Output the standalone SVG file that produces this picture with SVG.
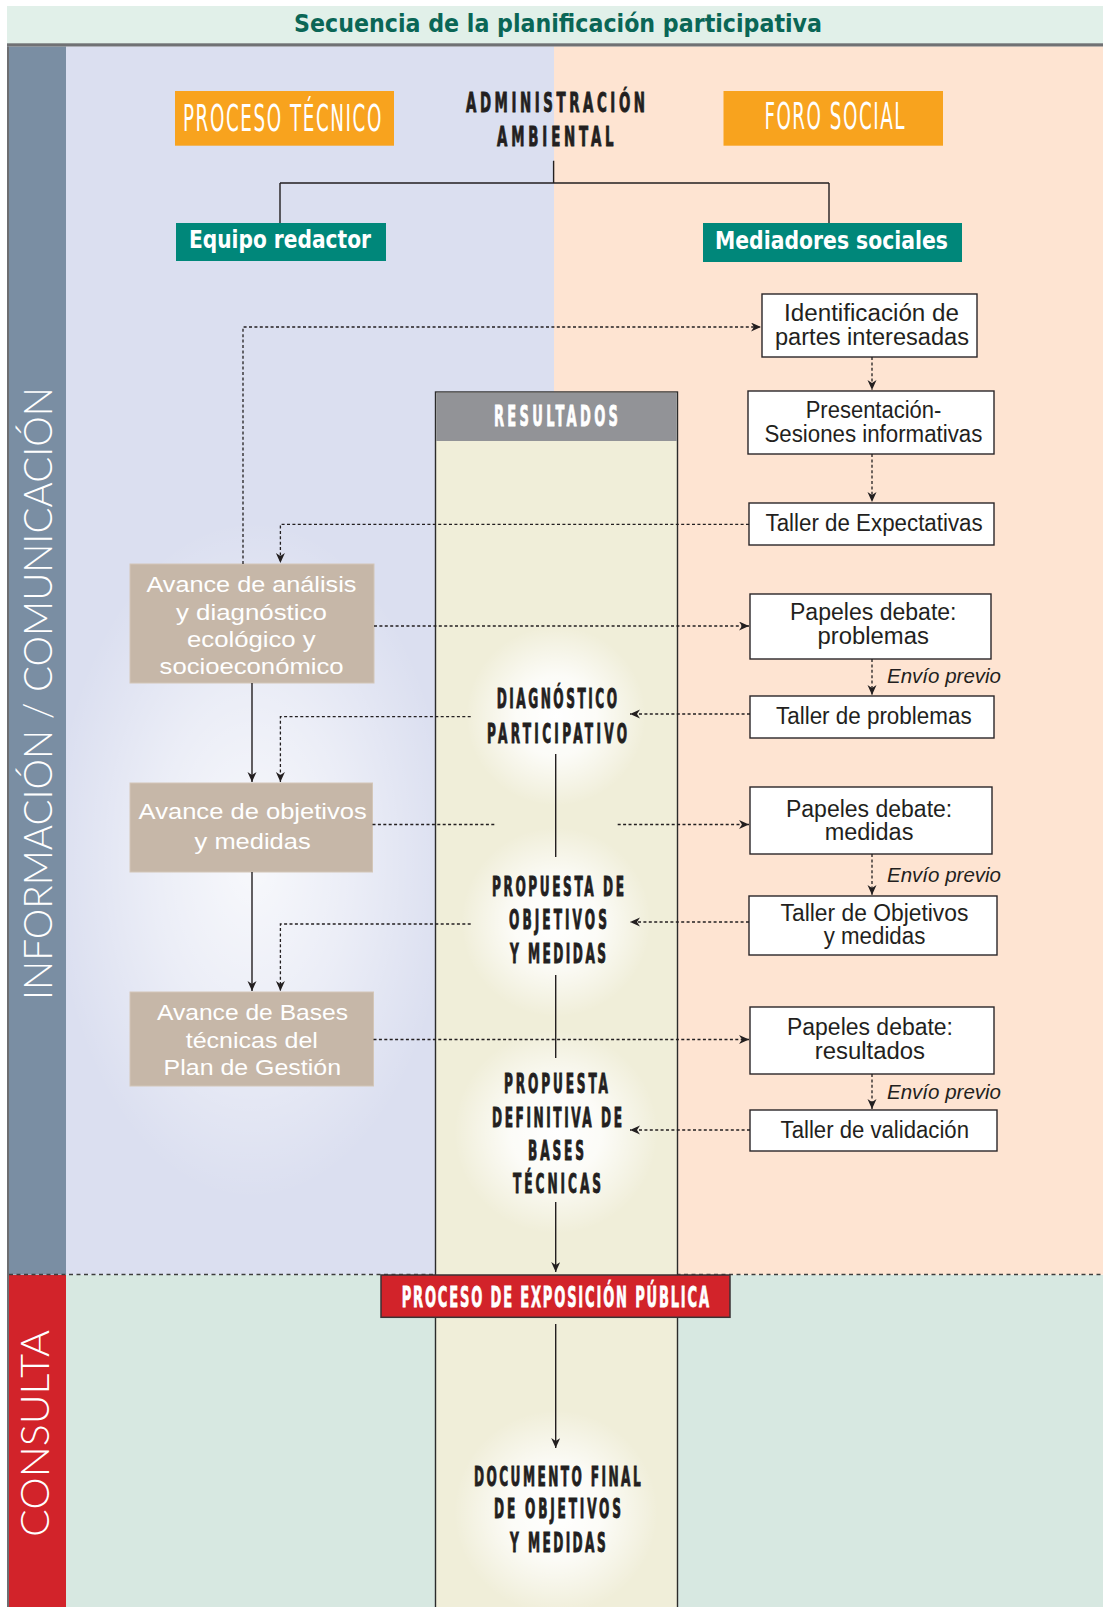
<svg xmlns="http://www.w3.org/2000/svg" width="1103" height="1607" viewBox="0 0 1103 1607">
<style>
.cb{font-family:"Liberation Sans Narrow","DejaVu Sans Condensed","Liberation Sans",sans-serif;font-stretch:condensed;font-weight:bold}
.cn{font-family:"Liberation Sans Narrow","DejaVu Sans Condensed","Liberation Sans",sans-serif;font-stretch:condensed;font-weight:normal}
.ctr{fill:#231f20;font-size:27px;stroke:#231f20;stroke-width:0.9}
.wh{fill:#ffffff}
.whs{stroke:#ffffff;stroke-width:0.8}
.rb{fill:#ffffff;stroke:#2a2628;stroke-width:1.4}
.rt{font-family:"Liberation Sans",Arial,sans-serif;font-size:23px;fill:#231f20}
.lb{fill:#c6b7a8;stroke:#d3c6b8;stroke-width:1}
.lt{font-family:"Liberation Sans",Arial,sans-serif;font-size:22px;fill:#ffffff}
.ev{font-family:"Liberation Sans",Arial,sans-serif;font-style:italic;font-size:20px;fill:#231f20}
.dot{fill:none;stroke:#231f20;stroke-width:1.3;stroke-dasharray:3 2.4}
.sol{fill:none;stroke:#231f20;stroke-width:1.4}
.band{font-family:Lato,"Liberation Sans",sans-serif;font-weight:300;font-size:40px;fill:#ffffff}
</style>
<defs>
<marker id="ar" markerUnits="userSpaceOnUse" markerWidth="12" markerHeight="10" refX="10" refY="4.5" orient="auto">
<path d="M0,0 L10,4.5 L0,9 L3,4.5 z" fill="#231f20"/>
</marker>
<radialGradient id="glow">
<stop offset="0" stop-color="#ffffff" stop-opacity="1"/>
<stop offset="0.45" stop-color="#ffffff" stop-opacity="0.8"/>
<stop offset="1" stop-color="#ffffff" stop-opacity="0"/>
</radialGradient>
<radialGradient id="bigglow">
<stop offset="0" stop-color="#ffffff" stop-opacity="0.8"/>
<stop offset="0.5" stop-color="#ffffff" stop-opacity="0.45"/>
<stop offset="1" stop-color="#ffffff" stop-opacity="0"/>
</radialGradient>
</defs>

<g id="background">
<rect x="0" y="0" width="1103" height="1607" fill="#ffffff"/>
<rect x="7" y="6" width="1096" height="38" fill="#e1f0e9"/>
<rect x="7" y="43.3" width="1096" height="3.4" fill="#707174"/>
<rect x="66" y="46.7" width="488" height="1228" fill="#dbdff0"/>
<rect x="554" y="46.7" width="549" height="1228" fill="#fee4d2"/>
<rect x="66" y="1275" width="1037" height="332" fill="#d7e8e1"/>
<ellipse cx="252" cy="860" rx="200" ry="340" fill="url(#bigglow)"/>
<rect x="7" y="46.7" width="59" height="1228" fill="#7a8ea3"/>
<rect x="7" y="1275" width="59" height="332" fill="#d2232a"/>
<rect x="7" y="46.7" width="2" height="1561" fill="#6d6e71"/>
<line x1="9" y1="1274.5" x2="1103" y2="1274.5" stroke="#3d3d3d" stroke-width="1.4" stroke-dasharray="4 3.5"/>
</g>

<g id="title">
<text class="cb" x="294" y="32" font-size="25" fill="#0a6656" textLength="528" lengthAdjust="spacingAndGlyphs">Secuencia de la planificación participativa</text>
</g>

<g id="band-info">
<text class="band" transform="translate(52,1000) rotate(-90)" x="0" y="0" textLength="613" lengthAdjust="spacingAndGlyphs">INFORMACIÓN / COMUNICACIÓN</text>
</g>
<g id="band-consulta">
<text class="band" transform="translate(48.5,1537) rotate(-90)" x="0" y="0" textLength="207" lengthAdjust="spacingAndGlyphs">CONSULTA</text>
</g>

<g id="resultados">
<rect x="435.5" y="392" width="242" height="1230" fill="#f0eed9" stroke="#2b2b2b" stroke-width="1.4"/>
<rect x="436.2" y="392.7" width="240.6" height="48.3" fill="#929397"/>
<text class="cb wh whs" transform="translate(494,426) scale(0.5,1)" font-size="29" textLength="248" lengthAdjust="spacing">RESULTADOS</text>
<circle cx="556" cy="716" r="90" fill="url(#glow)"/>
<circle cx="556" cy="922" r="95" fill="url(#glow)"/>
<circle cx="556" cy="1132" r="102" fill="url(#glow)"/>
<circle cx="556" cy="1512" r="102" fill="url(#glow)"/>
</g>

<g id="admin">
<text class="cb ctr" transform="translate(466,111.5) scale(0.55,1)" font-size="31" textLength="325.5" lengthAdjust="spacing">ADMINISTRACIÓN</text>
<text class="cb ctr" transform="translate(497,145.7) scale(0.55,1)" font-size="31" textLength="212" lengthAdjust="spacing">AMBIENTAL</text>
</g>
<g id="proceso-tecnico">
<rect x="175" y="91" width="219" height="54.7" fill="#f8a31e"/>
<text class="cn wh" transform="translate(183,130.7) scale(0.55,1)" font-size="37" textLength="360.7" lengthAdjust="spacing">PROCESO TÉCNICO</text>
</g>
<g id="foro-social">
<rect x="723.5" y="91" width="219.5" height="54.7" fill="#f8a31e"/>
<text class="cn wh" transform="translate(764.4,129.3) scale(0.55,1)" font-size="37" textLength="254.5" lengthAdjust="spacing">FORO SOCIAL</text>
</g>
<g id="equipo-redactor">
<rect x="176" y="223" width="210" height="38" fill="#00877a"/>
<text class="cb wh" x="189" y="248" font-size="24" textLength="182" lengthAdjust="spacingAndGlyphs">Equipo redactor</text>
</g>
<g id="mediadores-sociales">
<rect x="703" y="223" width="259" height="39" fill="#00877a"/>
<text class="cb wh" x="715" y="248.5" font-size="24" textLength="233" lengthAdjust="spacingAndGlyphs">Mediadores sociales</text>
</g>

<g id="diagnostico">
<text class="cb ctr" transform="translate(496.7,708) scale(0.5,1)" textLength="240.6" lengthAdjust="spacing">DIAGNÓSTICO</text>
<text class="cb ctr" transform="translate(487,743) scale(0.5,1)" textLength="280" lengthAdjust="spacing">PARTICIPATIVO</text>
</g>
<g id="propuesta-objetivos">
<text class="cb ctr" transform="translate(492,896) scale(0.5,1)" textLength="264" lengthAdjust="spacing">PROPUESTA DE</text>
<text class="cb ctr" transform="translate(509,929) scale(0.5,1)" textLength="196" lengthAdjust="spacing">OBJETIVOS</text>
<text class="cb ctr" transform="translate(510,963) scale(0.5,1)" textLength="192" lengthAdjust="spacing">Y MEDIDAS</text>
</g>
<g id="propuesta-definitiva">
<text class="cb ctr" transform="translate(504,1093) scale(0.5,1)" textLength="208" lengthAdjust="spacing">PROPUESTA</text>
<text class="cb ctr" transform="translate(492,1127) scale(0.5,1)" textLength="260" lengthAdjust="spacing">DEFINITIVA DE</text>
<text class="cb ctr" transform="translate(528,1160) scale(0.5,1)" textLength="112" lengthAdjust="spacing">BASES</text>
<text class="cb ctr" transform="translate(513,1193) scale(0.5,1)" textLength="176" lengthAdjust="spacing">TÉCNICAS</text>
</g>
<g id="exposicion-publica">
<rect x="381" y="1275" width="349" height="42.3" fill="#d2232a" stroke="#3a3234" stroke-width="1.5"/>
<text class="cb wh whs" transform="translate(401.7,1306.7) scale(0.5,1)" font-size="29" textLength="614.6" lengthAdjust="spacing">PROCESO DE EXPOSICIÓN PÚBLICA</text>
</g>
<g id="documento-final">
<text class="cb ctr" transform="translate(474,1485.7) scale(0.5,1)" font-size="29" textLength="333.4" lengthAdjust="spacing">DOCUMENTO FINAL</text>
<text class="cb ctr" transform="translate(494,1518) scale(0.5,1)" font-size="29" textLength="254" lengthAdjust="spacing">DE OBJETIVOS</text>
<text class="cb ctr" transform="translate(510,1551.7) scale(0.5,1)" font-size="29" textLength="191.4" lengthAdjust="spacing">Y MEDIDAS</text>
</g>

<g id="avance-analisis">
<rect class="lb" x="130" y="564" width="244" height="119"/>
<text class="lt" x="146.4" y="591.7" textLength="210" lengthAdjust="spacingAndGlyphs">Avance de análisis</text>
<text class="lt" x="176" y="620" textLength="150.8" lengthAdjust="spacingAndGlyphs">y diagnóstico</text>
<text class="lt" x="187" y="647.3" textLength="128.7" lengthAdjust="spacingAndGlyphs">ecológico y</text>
<text class="lt" x="159.6" y="674" textLength="184" lengthAdjust="spacingAndGlyphs">socioeconómico</text>
</g>
<g id="avance-objetivos">
<rect class="lb" x="130" y="783" width="242.5" height="89"/>
<text class="lt" x="138.6" y="819.3" textLength="228.2" lengthAdjust="spacingAndGlyphs">Avance de objetivos</text>
<text class="lt" x="194.6" y="849.3" textLength="116.1" lengthAdjust="spacingAndGlyphs">y medidas</text>
</g>
<g id="avance-bases">
<rect class="lb" x="130" y="992" width="243.5" height="94"/>
<text class="lt" x="157" y="1020" textLength="191" lengthAdjust="spacingAndGlyphs">Avance de Bases</text>
<text class="lt" x="185.7" y="1047.7" textLength="132.2" lengthAdjust="spacingAndGlyphs">técnicas del</text>
<text class="lt" x="163.6" y="1075" textLength="177.4" lengthAdjust="spacingAndGlyphs">Plan de Gestión</text>
</g>

<g id="identificacion">
<rect class="rb" x="762" y="294" width="215" height="63"/>
<text class="rt" x="784" y="320.5" font-size="22" textLength="175" lengthAdjust="spacingAndGlyphs">Identificación de</text>
<text class="rt" x="775" y="345.1" font-size="22" textLength="194" lengthAdjust="spacingAndGlyphs">partes interesadas</text>
</g>
<g id="presentacion">
<rect class="rb" x="748" y="391" width="246" height="63"/>
<text class="rt" x="805.7" y="418.3" textLength="135.7" lengthAdjust="spacingAndGlyphs">Presentación-</text>
<text class="rt" x="764.4" y="442.3" textLength="218" lengthAdjust="spacingAndGlyphs">Sesiones informativas</text>
</g>
<g id="taller-expectativas">
<rect class="rb" x="749" y="503" width="245" height="42"/>
<text class="rt" x="765.5" y="530.7" textLength="217.2" lengthAdjust="spacingAndGlyphs">Taller de Expectativas</text>
</g>
<g id="papeles-problemas">
<rect class="rb" x="750" y="594" width="241" height="65"/>
<text class="rt" x="790" y="619.7" font-size="22" textLength="166.5" lengthAdjust="spacingAndGlyphs">Papeles debate:</text>
<text class="rt" x="817.6" y="644.3" font-size="22" textLength="111.3" lengthAdjust="spacingAndGlyphs">problemas</text>
</g>
<g id="taller-problemas">
<rect class="rb" x="750" y="696" width="244" height="42"/>
<text class="rt" x="776" y="724" textLength="195.6" lengthAdjust="spacingAndGlyphs">Taller de problemas</text>
</g>
<g id="papeles-medidas">
<rect class="rb" x="750" y="787" width="242" height="67"/>
<text class="rt" x="786" y="816.7" textLength="166.2" lengthAdjust="spacingAndGlyphs">Papeles debate:</text>
<text class="rt" x="824.7" y="840" textLength="88.7" lengthAdjust="spacingAndGlyphs">medidas</text>
</g>
<g id="taller-objetivos">
<rect class="rb" x="749" y="896" width="248" height="59"/>
<text class="rt" x="780.6" y="920.7" textLength="187.8" lengthAdjust="spacingAndGlyphs">Taller de Objetivos</text>
<text class="rt" x="823.7" y="944.3" textLength="101.6" lengthAdjust="spacingAndGlyphs">y medidas</text>
</g>
<g id="papeles-resultados">
<rect class="rb" x="750" y="1007" width="244" height="67"/>
<text class="rt" x="787" y="1035" textLength="166" lengthAdjust="spacingAndGlyphs">Papeles debate:</text>
<text class="rt" x="814.7" y="1059" textLength="110.3" lengthAdjust="spacingAndGlyphs">resultados</text>
</g>
<g id="taller-validacion">
<rect class="rb" x="750" y="1110" width="247" height="41"/>
<text class="rt" x="780.6" y="1138.3" textLength="188.4" lengthAdjust="spacingAndGlyphs">Taller de validación</text>
</g>

<g id="connectors">
<path class="sol" d="M553.6,160.7 V183 M280,183 H829 M280,183 V223 M829,183 V223"/>
<path class="dot" d="M243,564 V327 H761" marker-end="url(#ar)"/>
<path class="dot" d="M872,357 V390" marker-end="url(#ar)"/>
<path class="dot" d="M872,454 V502" marker-end="url(#ar)"/>
<path class="dot" d="M749,524.3 H280.4 V563" marker-end="url(#ar)"/>
<path class="dot" d="M374,626 H749" marker-end="url(#ar)"/>
<path class="dot" d="M872,659 V695" marker-end="url(#ar)"/>
<text class="ev" x="887" y="683.3" textLength="114" lengthAdjust="spacingAndGlyphs">Envío previo</text>
<path class="dot" d="M750,714 H630" marker-end="url(#ar)"/>
<path class="dot" d="M470.7,716.7 H280.4 V782" marker-end="url(#ar)"/>
<path class="sol" d="M252,683 V782" marker-end="url(#ar)"/>
<path class="dot" d="M372.5,824.5 H496.7"/>
<path class="dot" d="M617.7,824.5 H749" marker-end="url(#ar)"/>
<path class="dot" d="M872,854 V895" marker-end="url(#ar)"/>
<text class="ev" x="887" y="881.7" textLength="114" lengthAdjust="spacingAndGlyphs">Envío previo</text>
<path class="dot" d="M749,922 H630" marker-end="url(#ar)"/>
<path class="dot" d="M470.7,924 H280.4 V991" marker-end="url(#ar)"/>
<path class="sol" d="M252,872 V991" marker-end="url(#ar)"/>
<path class="dot" d="M373.5,1039.5 H749" marker-end="url(#ar)"/>
<path class="dot" d="M872,1074 V1109" marker-end="url(#ar)"/>
<text class="ev" x="887" y="1099" textLength="114" lengthAdjust="spacingAndGlyphs">Envío previo</text>
<path class="dot" d="M750,1130 H630" marker-end="url(#ar)"/>
<path class="sol" d="M555.7,754 V857"/>
<path class="sol" d="M555.7,975 V1058"/>
<path class="sol" d="M555.7,1202 V1272" marker-end="url(#ar)"/>
<path class="sol" d="M555.7,1324 V1448" marker-end="url(#ar)"/>
</g>
</svg>
